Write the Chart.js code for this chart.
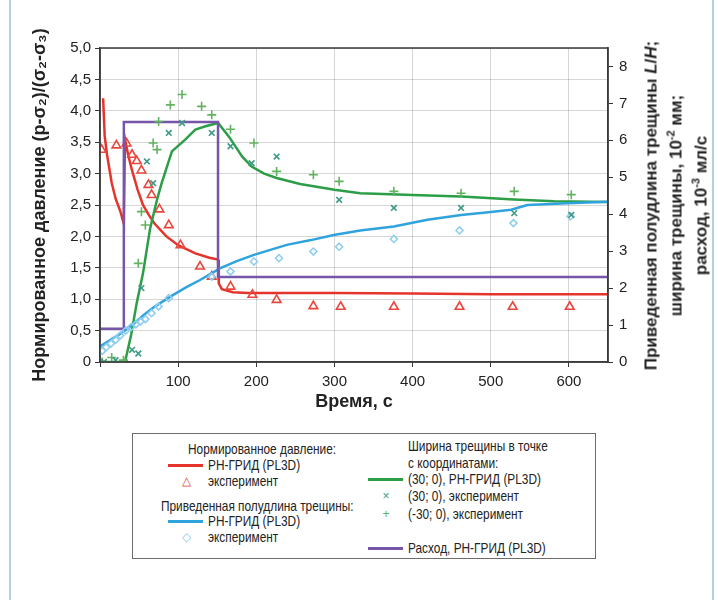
<!DOCTYPE html>
<html lang="ru">
<head>
<meta charset="utf-8">
<script src="https://cdn.jsdelivr.net/npm/chart.js@4/dist/chart.umd.min.js"></script>
<style>
  html, body { margin: 0; padding: 0; background: #fff; }
  #wrap { position: relative; width: 718px; height: 600px; overflow: hidden;
    font-family: 'Liberation Sans', Arial, sans-serif; color: #222; }
  #wrap .frame { position: absolute; top: 0; bottom: 0; width: 2px; background: #b3cfe3; }
  #chart { position: absolute; left: 0; top: 0; }
  #rtitle { position: absolute; left: 476px; top: 168px; width: 400px; height: 75px;
    transform: rotate(-90deg); text-align: center; font-weight: bold; font-size: 17px;
    line-height: 25px; white-space: nowrap; }
  #rtitle sup { font-size: 11px; line-height: 0; vertical-align: 7px; }
  #legend { position: absolute; left: 132px; top: 433px; width: 462px; height: 124px;
    border: 1px solid #6d6d6d; font-size: 15px; }
  #legend div { position: absolute; white-space: nowrap; line-height: 16px;
    transform: scaleX(0.79); transform-origin: 0 50%; }
  #legend .ln { position: absolute; height: 3px; }
  #legend .mk { position: absolute; font-size: 12px; line-height: 12px; text-align: center; width: 12px; }
</style>
</head>
<body>
<div id="wrap">
  <div class="frame" style="left:9px"></div>
  <div class="frame" style="left:712px"></div>
  <canvas id="chart" width="718" height="420"></canvas>
  <div id="rtitle">Приведенная полудлина трещины <i>L</i>/<i>H</i>;<br>ширина трещины, 10<sup>-2</sup> мм;<br>расход, 10<sup>-3</sup> мл/с</div>
  <div id="legend"></div>
</div>
<script>
// время, с
const timeMax = 650;
const timeTicks = [100, 200, 300, 400, 500, 600];

// нормированное давление, РН-ГРИД (PL3D)
const pressureModelT = [4, 6, 9, 15, 20, 26, 30, 30.5, 32, 36, 41, 48, 55, 62, 70, 85, 100, 122, 140, 151, 152, 156, 170, 190, 250, 300, 400, 500, 650];
const pressureModelV = [4.2, 3.6, 3.3, 2.85, 2.6, 2.4, 2.22, 2.2, 3.55, 3.3, 3.05, 2.75, 2.5, 2.35, 2.2, 2.0, 1.86, 1.73, 1.66, 1.63, 1.25, 1.16, 1.11, 1.1, 1.1, 1.1, 1.09, 1.08, 1.08];
// нормированное давление, эксперимент
const pressureExpT = [2, 21, 34, 41, 47, 53, 62, 66, 76, 88, 103, 128, 143, 167, 195, 226, 273, 308, 376, 460, 528, 601];
const pressureExpV = [3.38, 3.45, 3.48, 3.3, 3.2, 3.05, 2.82, 2.66, 2.43, 2.18, 1.86, 1.52, 1.36, 1.2, 1.07, 0.99, 0.89, 0.88, 0.88, 0.88, 0.88, 0.88];

// приведенная полудлина трещины L/H
const lengthModelT = [0, 15, 30, 45, 56, 70, 90, 110, 128, 154, 175, 197, 220, 239, 270, 299, 333, 376, 419, 462, 500, 526, 547, 598, 650];
const lengthModelV = [0.42, 0.62, 0.82, 1.07, 1.27, 1.5, 1.77, 2.02, 2.22, 2.54, 2.73, 2.9, 3.05, 3.17, 3.3, 3.44, 3.56, 3.67, 3.85, 3.98, 4.06, 4.12, 4.25, 4.3, 4.34];
const lengthExpT = [3, 8, 14, 20, 26, 33, 40, 46, 52, 58, 66, 75, 88, 143, 167, 197, 229, 273, 306, 376, 460, 529, 602];
const lengthExpV = [0.3, 0.4, 0.5, 0.6, 0.72, 0.85, 0.95, 1.02, 1.1, 1.16, 1.32, 1.5, 1.73, 2.31, 2.45, 2.72, 2.81, 2.99, 3.12, 3.33, 3.56, 3.76, 3.94];

// ширина трещины, 10^-2 мм
const widthModelT = [0, 32, 40, 47, 55, 64, 73, 79, 92, 109, 122, 135, 151, 152, 165, 182, 194, 210, 226, 256, 300, 333, 400, 462, 530, 581, 650];
const widthModelV = [0, 0, 0.75, 1.6, 2.4, 3.6, 4.4, 4.85, 5.7, 6.02, 6.29, 6.38, 6.47, 6.45, 6.1, 5.56, 5.29, 5.1, 4.98, 4.82, 4.66, 4.57, 4.52, 4.48, 4.4, 4.35, 4.33];
const width30ExpT = [5, 20, 41, 49, 53, 60, 68, 88, 105, 143, 167, 194, 226, 306, 376, 462, 530, 603];
const width30ExpV = [0, 0.05, 0.33, 0.23, 2.0, 5.43, 4.84, 6.2, 6.47, 6.2, 5.84, 5.38, 5.56, 4.39, 4.17, 4.17, 4.03, 3.98];
const widthM30ExpT = [3, 15, 30, 49, 53, 58, 68, 73, 75, 90, 105, 130, 143, 167, 197, 226, 273, 306, 376, 462, 530, 603];
const widthM30ExpV = [0, 0.12, 0.05, 2.67, 4.07, 3.71, 5.93, 5.75, 6.51, 6.96, 7.24, 6.92, 6.69, 6.3, 5.93, 5.16, 5.07, 4.89, 4.62, 4.57, 4.62, 4.53];

// расход, 10^-3 мл/с
const flowT = [0, 30.5, 30.5, 151, 151, 650];
const flowV = [0.9, 0.9, 6.5, 6.5, 2.3, 2.3];

const FONT = "'Liberation Sans', Arial, sans-serif";
const RED = '#e5342b', BLUE = '#2fa3dd', GREEN = '#2b9e47', PURPLE = '#7656a8';

function pts(t, v) {
  return t.map((x, i) => ({ x: x, y: v[i] }));
}

function line(label, t, v, color, axis) {
  return { label, data: pts(t, v), yAxisID: axis, borderColor: color, borderWidth: 2.5,
    pointRadius: 0, tension: 0, fill: false, showLine: true };
}

function marks(label, t, v, color, style, r, axis) {
  return { label, data: pts(t, v), yAxisID: axis, showLine: false, pointStyle: style,
    pointRadius: r, pointBorderColor: color, pointBackgroundColor: 'rgba(0,0,0,0)',
    pointBorderWidth: 1.6, borderColor: color };
}

// рамка вокруг области построения
const boxPlugin = {
  id: 'plotBox',
  afterDraw(chart) {
    const a = chart.chartArea, c = chart.ctx;
    c.save();
    c.strokeStyle = '#3a3a3a';
    c.lineWidth = 1.5;
    c.strokeRect(a.left, a.top, a.right - a.left, a.bottom - a.top);
    c.restore();
  }
};

const ctx = document.getElementById('chart');
new Chart(ctx, {
  type: 'scatter',
  data: {
    datasets: [
      marks('(30; 0), эксперимент', width30ExpT, width30ExpV, '#3c9a85', 'crossRot', 4, 'y2'),
      marks('(-30; 0), эксперимент', widthM30ExpT, widthM30ExpV, '#62b35f', 'cross', 4.5, 'y2'),
      marks('Полудлина, эксперимент', lengthExpT, lengthExpV, '#8fcdee', 'rectRot', 3.5, 'y2'),
      line('Расход, РН-ГРИД (PL3D)', flowT, flowV, PURPLE, 'y2'),
      line('Полудлина, РН-ГРИД (PL3D)', lengthModelT, lengthModelV, BLUE, 'y2'),
      line('(30; 0), РН-ГРИД (PL3D)', widthModelT, widthModelV, GREEN, 'y2'),
      marks('Давление, эксперимент', pressureExpT, pressureExpV, '#e8473e', 'triangle', 5, 'y'),
      line('Давление, РН-ГРИД (PL3D)', pressureModelT, pressureModelV, RED, 'y')
    ]
  },
  options: {
    responsive: false,
    animation: false,
    layout: { padding: { top: 48, left: 0, right: 0, bottom: 0 } },
    plugins: { legend: { display: false }, tooltip: { enabled: false } },
    scales: {
      x: {
        type: 'linear', min: 0, max: timeMax,
        afterBuildTicks: (s) => { s.ticks = [0].concat(timeTicks).map(v => ({ value: v })); },
        afterFit: (s) => { s.height = 58; },
        ticks: { color: '#222', font: { family: FONT, size: 15 }, padding: 6,
          callback: (v) => (v === 0 ? '' : v) },
        grid: { color: 'rgba(0,0,0,0.16)', tickColor: '#333', tickLength: 5 },
        border: { color: '#3a3a3a', width: 1.5 },
        title: { display: true, text: 'Время, с', color: '#222',
          font: { family: FONT, size: 18, weight: 'bold' }, padding: { top: 0, bottom: 7 } }
      },
      y: {
        position: 'left', min: 0, max: 5,
        afterFit: (s) => { s.width = 100; },
        ticks: { stepSize: 0.5, color: '#222', font: { family: FONT, size: 15 }, padding: 4,
          callback: (v) => (v === 0 ? '0' : v.toFixed(1).replace('.', ',')) },
        grid: { color: 'rgba(0,0,0,0.16)', tickColor: '#333', tickLength: 5 },
        border: { color: '#3a3a3a', width: 1.5 },
        title: { display: true, text: 'Нормированное давление (p-σ₂)/(σ₂-σ₃)', color: '#222',
          font: { family: FONT, size: 18, weight: 'bold' }, padding: { top: 29, bottom: 0 } }
      },
      y2: {
        position: 'right', min: 0, max: 8.5,
        afterFit: (s) => { s.width = 110; },
        ticks: { stepSize: 1, includeBounds: false, color: '#222',
          font: { family: FONT, size: 15 }, padding: 6 },
        grid: { drawOnChartArea: false, tickColor: '#333', tickLength: 5 },
        border: { color: '#3a3a3a', width: 1.5 }
      }
    }
  },
  plugins: [boxPlugin]
});

// подпись условных обозначений
const legendItems = [
  { text: 'Нормированное давление:', x: 55, y: 7 },
  { text: 'РН-ГРИД (PL3D)', x: 75, y: 23, line: RED },
  { text: 'эксперимент', x: 75, y: 39, mark: '△', color: '#e8473e' },
  { text: 'Приведенная полудлина трещины:', x: 28, y: 64 },
  { text: 'РН-ГРИД (PL3D)', x: 75, y: 79, line: BLUE },
  { text: 'эксперимент', x: 75, y: 95, mark: '◇', color: '#8fcdee' },
  { text: 'Ширина трещины в точке', x: 275, y: 4 },
  { text: 'с координатами:', x: 275, y: 21 },
  { text: '(30; 0), РН-ГРИД (PL3D)', x: 275, y: 37, line: GREEN },
  { text: '(30; 0), эксперимент', x: 275, y: 54, mark: '×', color: '#3c9a85' },
  { text: '(-30; 0), эксперимент', x: 275, y: 72, mark: '+', color: '#62b35f' },
  { text: 'Расход, РН-ГРИД (PL3D)', x: 275, y: 106, line: PURPLE }
];
const legend = document.getElementById('legend');
legendItems.forEach((it) => {
  const d = document.createElement('div');
  d.textContent = it.text;
  d.style.left = it.x + 'px';
  d.style.top = it.y + 'px';
  legend.appendChild(d);
  if (it.line) {
    const l = document.createElement('span');
    l.className = 'ln';
    l.style.left = (it.x - 40) + 'px';
    l.style.width = '35px';
    l.style.top = (it.y + 7) + 'px';
    l.style.background = it.line;
    legend.appendChild(l);
  }
  if (it.mark) {
    const m = document.createElement('span');
    m.className = 'mk';
    m.textContent = it.mark;
    m.style.left = (it.x - 28) + 'px';
    m.style.top = (it.y + 2) + 'px';
    m.style.color = it.color;
    legend.appendChild(m);
  }
});
</script>
</body>
</html>
